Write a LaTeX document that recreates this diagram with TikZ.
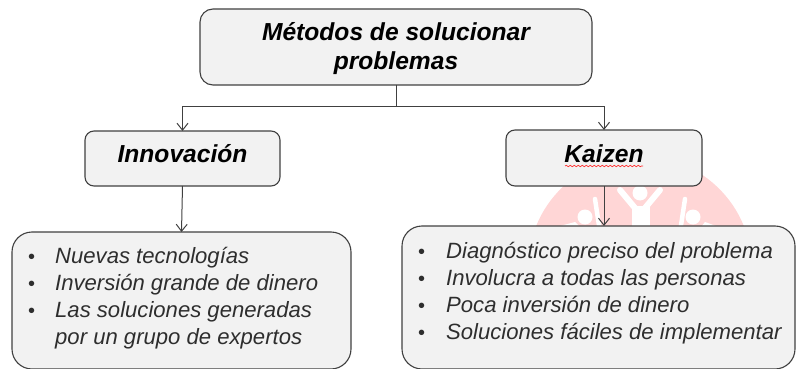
\documentclass[tikz,border=0pt]{standalone}
\usepackage{fontspec}
\setmainfont{Liberation Sans}
\usetikzlibrary{arrows.meta,decorations.pathmorphing}
\definecolor{boxfill}{HTML}{F2F2F2}
\definecolor{boxline}{HTML}{404040}
\definecolor{wm}{HTML}{FFD6D6}
\tikzset{
  rbox/.style n args={3}{draw=boxline,fill=boxfill,line width=1.1pt,rounded corners=#1,
     minimum width=#2,minimum height=#3,inner sep=0pt,outer sep=0pt},
  head/.style={font=\bfseries\itshape\fontsize{24.6}{29}\selectfont,align=center},
  item/.style={anchor=base west,font=\itshape\fontsize{22.1}{26}\selectfont,text=black!82,inner sep=0pt},
  bul/.style={anchor=base west,font=\fontsize{20}{26}\selectfont,text=black!82,inner sep=0pt},
  conn/.style={draw=boxline,line width=1pt,-{Straight Barb[length=7pt,width=11pt]}},
  figl/.style={draw=white,line cap=round}
}
\begin{document}
\begin{tikzpicture}[x=1pt,y=-1pt]
\useasboundingbox (0,0) rectangle (796,369);
% watermark
\fill[wm] (640,268) circle (112);
\fill[white] (640,193) circle (7.5);
\draw[figl,line width=6pt] (620,190) -- (640,214) -- (660,190);
\fill[white] (632,206) rectangle (650,240);
\fill[white] (585,217) circle (7.5);
\draw[figl,line width=4.5pt] (595,199) -- (600,232);
\fill[white] (693,217) circle (7.5);
\draw[figl,line width=4.5pt] (685,199) -- (680,232);
\fill[white] (560,226) -- (575,222) -- (585,232) -- (560,232) -- cycle;
\fill[white] (697,232) -- (705,222) -- (716,226) -- (716,232) -- cycle;
% boxes
\node[rbox={13pt}{392pt}{76pt}] (top) at (396,47) {};
\node[head] (toptext) at (396,49) {Métodos de solucionar\\problemas};
\node[rbox={9pt}{195pt}{55pt}] (inn) at (182.5,158.5) {};
\node[head] (inntext) at (182.5,154) {Innovación};
\node[rbox={9pt}{196pt}{56pt}] (kai) at (604,158) {};
\node[head] (kaitext) at (604,154) {Kaizen};
\draw[red!80!white,line width=.7pt,decoration={snake,amplitude=.7pt,segment length=4pt},decorate] (565,166) -- (643,166);
\node[rbox={20pt}{339pt}{137pt}] (lb) at (181.5,300.5) {};
\node[rbox={20pt}{393pt}{143pt}] (rb) at (598.5,297.5) {};
% left text
\foreach \y/\t in {263/Nuevas tecnologías,290/Inversión grande de dinero,317/Las soluciones generadas}{
  \node[bul] at (28,\y) {•};
  \node[item] at (55,\y) {\t};
}
\node[item] (l4) at (55,344) {por un grupo de expertos};
% right text
\foreach \y/\t in {258/Diagnóstico preciso del problema,285/Involucra a todas las personas,312/Poca inversión de dinero,339/Soluciones fáciles de implementar}{
  \node[bul] at (418,\y) {•};
  \node[item] at (446,\y) {\t};
}
% connectors
\coordinate (j) at (396,107);
\draw[boxline,line width=1pt] (top.south) -- (j);
\draw[conn] (j) -| (inn.north);
\draw[conn] (j) -| (kai.north);
\draw[conn] (inn.south) -- (lb.north);
\draw[conn] (kai.south) -- (kai.south |- rb.north);
\end{tikzpicture}
\end{document}
